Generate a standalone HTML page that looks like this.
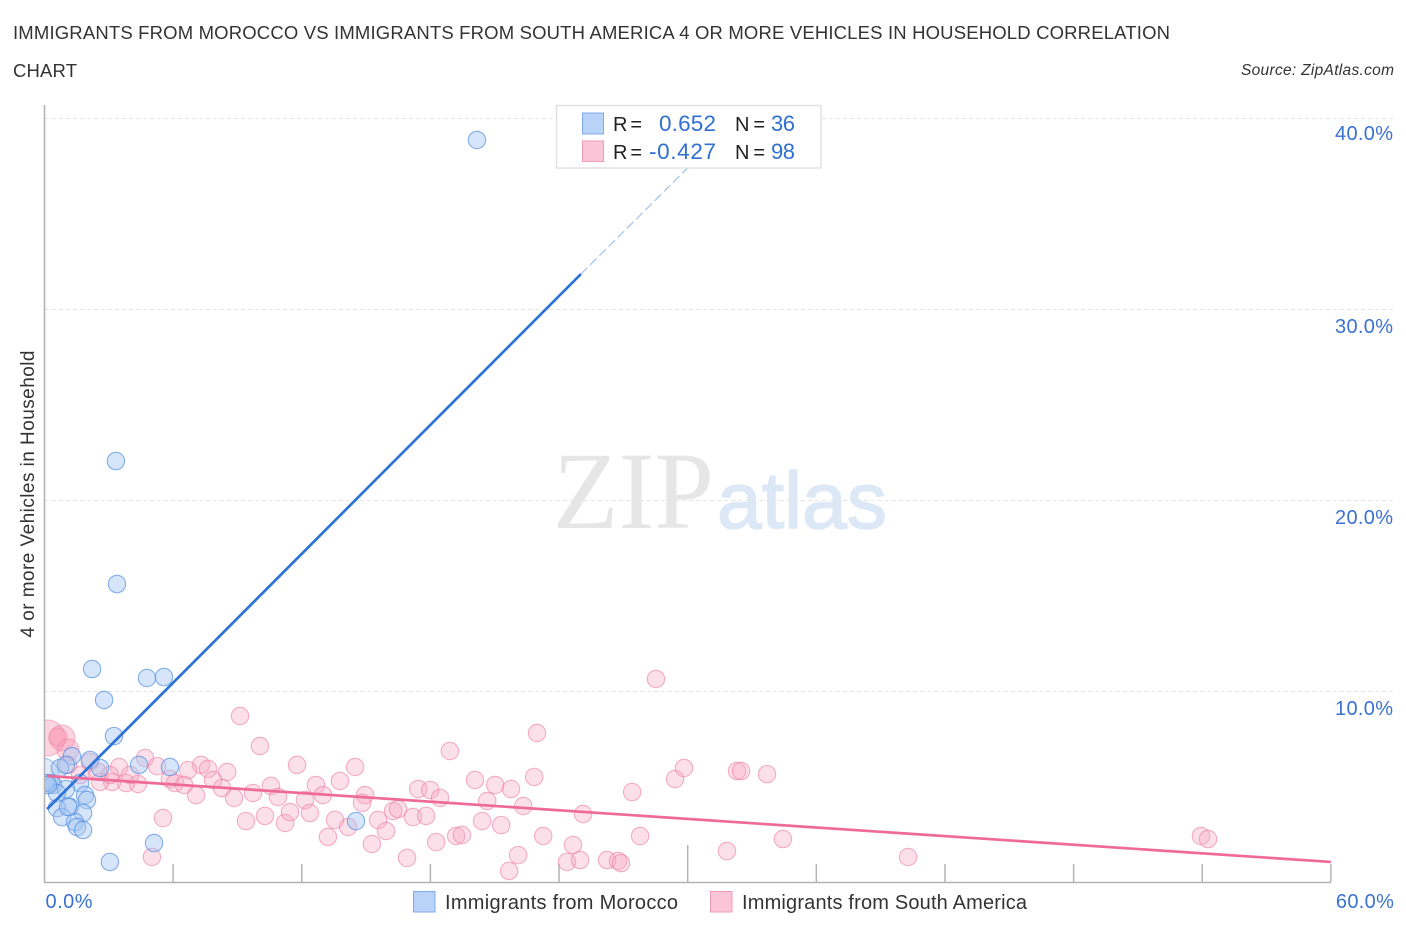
<!DOCTYPE html>
<html lang="en">
<head>
<meta charset="utf-8">
<title>Immigrants from Morocco vs Immigrants from South America Correlation Chart</title>
<style>
html,body{margin:0;padding:0;background:#fff;width:1406px;height:930px;overflow:hidden}
svg{display:block}
text{font-family:"Liberation Sans",sans-serif}
</style>
</head>
<body>
<svg id="chart" width="1406" height="930" viewBox="0 0 1406 930" xmlns="http://www.w3.org/2000/svg">
  <defs>
    <clipPath id="plot-clip"><rect x="45" y="100" width="1350" height="782"></rect></clipPath>
  </defs>
  <text x="13" y="39" font-size="18.5" fill="#333" textLength="1157" lengthAdjust="spacing">IMMIGRANTS FROM MOROCCO VS IMMIGRANTS FROM SOUTH AMERICA 4 OR MORE VEHICLES IN HOUSEHOLD CORRELATION</text>
  <text x="13" y="77" font-size="18.5" fill="#333" textLength="64" lengthAdjust="spacing">CHART</text>
  <text x="1394" y="75" font-size="15.500" font-style="italic" fill="#333" text-anchor="end" textLength="153" lengthAdjust="spacing">Source: ZipAtlas.com</text>

  <text x="553" y="528" font-size="110" fill="#e6e6e6" textLength="161" lengthAdjust="spacingAndGlyphs" style="font-family:'Liberation Serif',serif">ZIP</text>
  <text x="717" y="528" font-size="80" fill="#dde8f7" stroke="#dde8f7" stroke-width="1.500" textLength="170" lengthAdjust="spacingAndGlyphs">atlas</text>

  <g id="grid"></g>
  <g id="ticks"></g>
  <line x1="44.5" y1="105" x2="44.5" y2="883" stroke="#b4b4b4" stroke-width="1.6"></line>
  <line x1="44" y1="882.5" x2="1331" y2="882.5" stroke="#b4b4b4" stroke-width="1.6"></line>

  <g id="points-pink" clip-path="url(#plot-clip)"></g>
  <g id="points-blue" clip-path="url(#plot-clip)"></g>
  <g id="trends"></g>

  <g id="y-labels"></g>
  <g id="x-labels"></g>

  <text transform="translate(34 494) rotate(-90)" font-size="19" fill="#333" text-anchor="middle" textLength="287" lengthAdjust="spacing">4 or more Vehicles in Household</text>

  <g id="stats-legend">
    <rect x="556.5" y="105.5" width="264.500" height="62.500" fill="#fff" stroke="#e2e2e2" stroke-width="1.500"></rect>
    <rect x="582.500" y="113" width="21" height="21" fill="#b9d3f8" stroke="#7fabec" stroke-width="1"></rect>
    <rect x="582.500" y="141" width="21" height="20.500" fill="#fcc5d7" stroke="#f29ab8" stroke-width="1"></rect>
    <text x="613" y="131" font-size="20" fill="#222" textLength="29" lengthAdjust="spacing">R =</text>
    <text x="659" y="131" font-size="22.500" fill="#2f6fd0" textLength="57" lengthAdjust="spacing">0.652</text>
    <text x="735" y="131" font-size="20" fill="#222" textLength="30" lengthAdjust="spacing">N =</text>
    <text x="771" y="131" font-size="22" fill="#2f6fd0" textLength="24" lengthAdjust="spacing">36</text>
    <text x="613" y="159" font-size="20" fill="#222" textLength="29" lengthAdjust="spacing">R =</text>
    <text x="649" y="159" font-size="22.500" fill="#2f6fd0" textLength="67" lengthAdjust="spacing">-0.427</text>
    <text x="735" y="159" font-size="20" fill="#222" textLength="30" lengthAdjust="spacing">N =</text>
    <text x="771" y="159" font-size="22" fill="#2f6fd0" textLength="24" lengthAdjust="spacing">98</text>
  </g>

  <g>
    <g>
      <rect x="413.500" y="891.500" width="21.500" height="20.500" fill="#b9d3f8" stroke="#7fabec" stroke-width="1"></rect>
      <text x="445" y="909" font-size="20" fill="#333" textLength="233" lengthAdjust="spacing">Immigrants from Morocco</text>
    </g>
    <g>
      <rect x="710.500" y="891.500" width="21.500" height="20.500" fill="#fcc5d7" stroke="#f29ab8" stroke-width="1"></rect>
      <text x="742" y="909" font-size="20" fill="#333" textLength="285" lengthAdjust="spacing">Immigrants from South America</text>
    </g>
  </g>
</svg>
<script>
const yTickValues = [10, 20, 30, 40];
const yTickLabels = ["10.0%", "20.0%", "30.0%", "40.0%"];
const xTickValues = [6, 12, 18, 24, 30, 36, 42, 48, 54, 60];
const xEndValues = [0, 60];
const xEndLabels = ["0.0%", "60.0%"];

const moroccoX = [20.17,3.33,3.38,2.22,4.78,5.57,2.78,3.24,4.41,5.85,5.11,3.05,14.53,1.28,2.12,2.59,0.72,0.30,0.40,1.66,1.89,1.98,1.00,0.58,1.19,0.58,1.80,0.82,1.42,1.52,1.80,0.07,1.00,0.16,1.10];
const moroccoY = [38.85,22.04,15.60,11.15,10.68,10.73,9.53,7.64,6.13,6.02,2.04,1.05,3.19,6.59,6.39,5.97,5.97,5.18,5.08,5.18,4.55,4.29,4.86,4.66,3.93,3.87,3.61,3.40,3.14,2.88,2.72,5.18,6.13,5.08,3.93];
const moroccoLargeX = [-0.12];
const moroccoLargeY = [5.60];
const moroccoLargeWeight = [3.8];

const southAmericaX = [9.12,10.05,11.78,14.49,4.69,3.48,5.25,7.30,6.70,7.63,8.52,13.78,12.66,10.56,14.95,12.99,9.72,10.89,8.28,7.86,5.85,6.09,6.51,7.07,8.84,12.15,14.81,4.36,3.80,3.15,2.59,3.99,3.05,1.66,2.12,2.50,1.10,5.53,5.01,9.40,10.28,11.22,11.45,12.38,13.55,14.16,13.22,15.56,15.27,28.52,22.97,18.91,20.08,21.02,21.76,22.84,20.65,22.33,17.43,17.99,18.45,16.26,16.49,15.93,17.19,17.80,20.41,21.30,19.20,19.47,18.27,16.91,23.26,22.09,21.67,24.65,24.37,24.98,25.12,26.24,26.75,26.89,27.78,27.41,29.41,29.83,32.30,32.49,33.70,31.83,34.44,40.28,53.94,54.27];
const southAmericaY = [8.69,7.12,6.13,6.02,6.49,6.02,6.07,6.13,5.86,5.92,5.76,5.29,5.08,5.03,4.55,4.55,4.66,4.45,4.92,5.34,5.39,5.18,5.08,4.55,4.40,4.29,4.14,5.13,5.18,5.24,5.24,5.60,5.60,5.60,6.28,5.76,6.13,3.35,1.31,3.19,3.46,3.09,3.66,3.61,3.25,2.88,2.36,3.25,1.99,10.63,7.80,6.86,5.34,5.08,4.87,5.50,4.24,3.98,4.87,4.82,4.40,3.72,3.82,2.67,3.40,3.46,3.19,2.98,2.41,2.46,2.09,1.26,2.41,1.41,0.58,1.94,1.05,1.15,3.56,1.15,1.10,0.99,2.41,4.71,5.39,5.97,5.81,5.81,5.65,1.62,2.25,1.31,2.41,2.25];
const southAmericaLargeX = [0.12,0.82,0.63,1.10];
const southAmericaLargeY = [7.54,7.54,7.59,6.91];
const southAmericaLargeWeight = [4.3,2.2,1.1,1.6];

const moroccoTrendX = [0.12,25.02];
const moroccoTrendY = [3.82,31.83];
const moroccoExtendX = [25.02,32.11];
const moroccoExtendY = [31.83,39.74];
const southAmericaTrendX = [0.12,60];
const southAmericaTrendY = [5.55,1.05];

const NS = "http://www.w3.org/2000/svg";
const xScale = v => 44.5 + v * 21.44;
const yScale = v => 882 - v * 19.1;
const baseRadius = 8.7;

function svgEl(tag, parentId, attrs) {
  const el = document.createElementNS(NS, tag);
  Object.keys(attrs).forEach(k => el.setAttribute(k, attrs[k]));
  document.getElementById(parentId).appendChild(el);
  return el;
}

yTickValues.forEach((v, i) => {
  const grid = svgEl("line", "grid", {x1: 45, x2: 1394, y1: yScale(v) + 0.5, y2: yScale(v) + 0.5, stroke: "#e4e4e4", "stroke-width": 1, "stroke-dasharray": "4 3"});
  
  
  const offset = v === 40 ? 22 : 24;
  const label = svgEl("text", "y-labels", {x: 1393, y: yScale(v) + offset, "font-size": 20, fill: "#3a72cf", "text-anchor": "end", textLength: 58, lengthAdjust: "spacing"});
  
  
  label.textContent = yTickLabels[i];
});

xTickValues.forEach(v => {
  const top = v === 30 ? 845 : 864;
  const tick = svgEl("line", "ticks", {x1: xScale(v), x2: xScale(v), y1: top, y2: 882, stroke: "#b4b4b4", "stroke-width": 1.5});
  
  
});

xEndValues.forEach((v, i) => {
  const label = svgEl("text", "x-labels", {x: i === 0 ? xScale(v) + 1 : xScale(v) + 5, y: 908, "font-size": 20, fill: "#3a72cf", textLength: i === 0 ? 47 : 58, lengthAdjust: "spacing"});
  
  
  label.textContent = xEndLabels[i];
});

southAmericaLargeX.forEach((x, i) => {
  const c = svgEl("circle", "points-pink", {cx: xScale(x), cy: yScale(southAmericaLargeY[i]), r: baseRadius * Math.sqrt(southAmericaLargeWeight[i]), fill: "#f898b5", "fill-opacity": 0.42, stroke: "#ee7fa5", "stroke-opacity": 0.5, "stroke-width": 1.1});
  
  
});
southAmericaX.forEach((x, i) => {
  const c = svgEl("circle", "points-pink", {cx: xScale(x), cy: yScale(southAmericaY[i]), r: baseRadius, fill: "#f8a8c2", "fill-opacity": 0.36, stroke: "#ee7fa5", "stroke-opacity": 0.62, "stroke-width": 1.1});
  
  
});
moroccoLargeX.forEach((x, i) => {
  const c = svgEl("circle", "points-blue", {cx: xScale(x), cy: yScale(moroccoLargeY[i]), r: baseRadius * Math.sqrt(moroccoLargeWeight[i]), fill: "#a5c6f1", "fill-opacity": 0.35, stroke: "#4f8ce0", "stroke-opacity": 0.5, "stroke-width": 1.1});
  
  
});
moroccoX.forEach((x, i) => {
  const c = svgEl("circle", "points-blue", {cx: xScale(x), cy: yScale(moroccoY[i]), r: baseRadius, fill: "#a5c6f1", "fill-opacity": 0.46, stroke: "#4f8ce0", "stroke-opacity": 0.68, "stroke-width": 1.1});
  
  
});

const extend = svgEl("line", "trends", {x1: xScale(moroccoExtendX[0]), y1: yScale(moroccoExtendY[0]), x2: xScale(moroccoExtendX[1]), y2: yScale(moroccoExtendY[1]), stroke: "#8fb5ea", "stroke-width": 1, "stroke-dasharray": "9 4"});



const blueTrend = svgEl("line", "trends", {x1: xScale(moroccoTrendX[0]), y1: yScale(moroccoTrendY[0]), x2: xScale(moroccoTrendX[1]), y2: yScale(moroccoTrendY[1]), stroke: "#2b73d6", "stroke-width": 2.7});



const pinkTrend = svgEl("line", "trends", {x1: xScale(southAmericaTrendX[0]), y1: yScale(southAmericaTrendY[0]), x2: xScale(southAmericaTrendX[1]), y2: yScale(southAmericaTrendY[1]), stroke: "#ee6a98", "stroke-width": 2.7});


</script>
</body>
</html>
